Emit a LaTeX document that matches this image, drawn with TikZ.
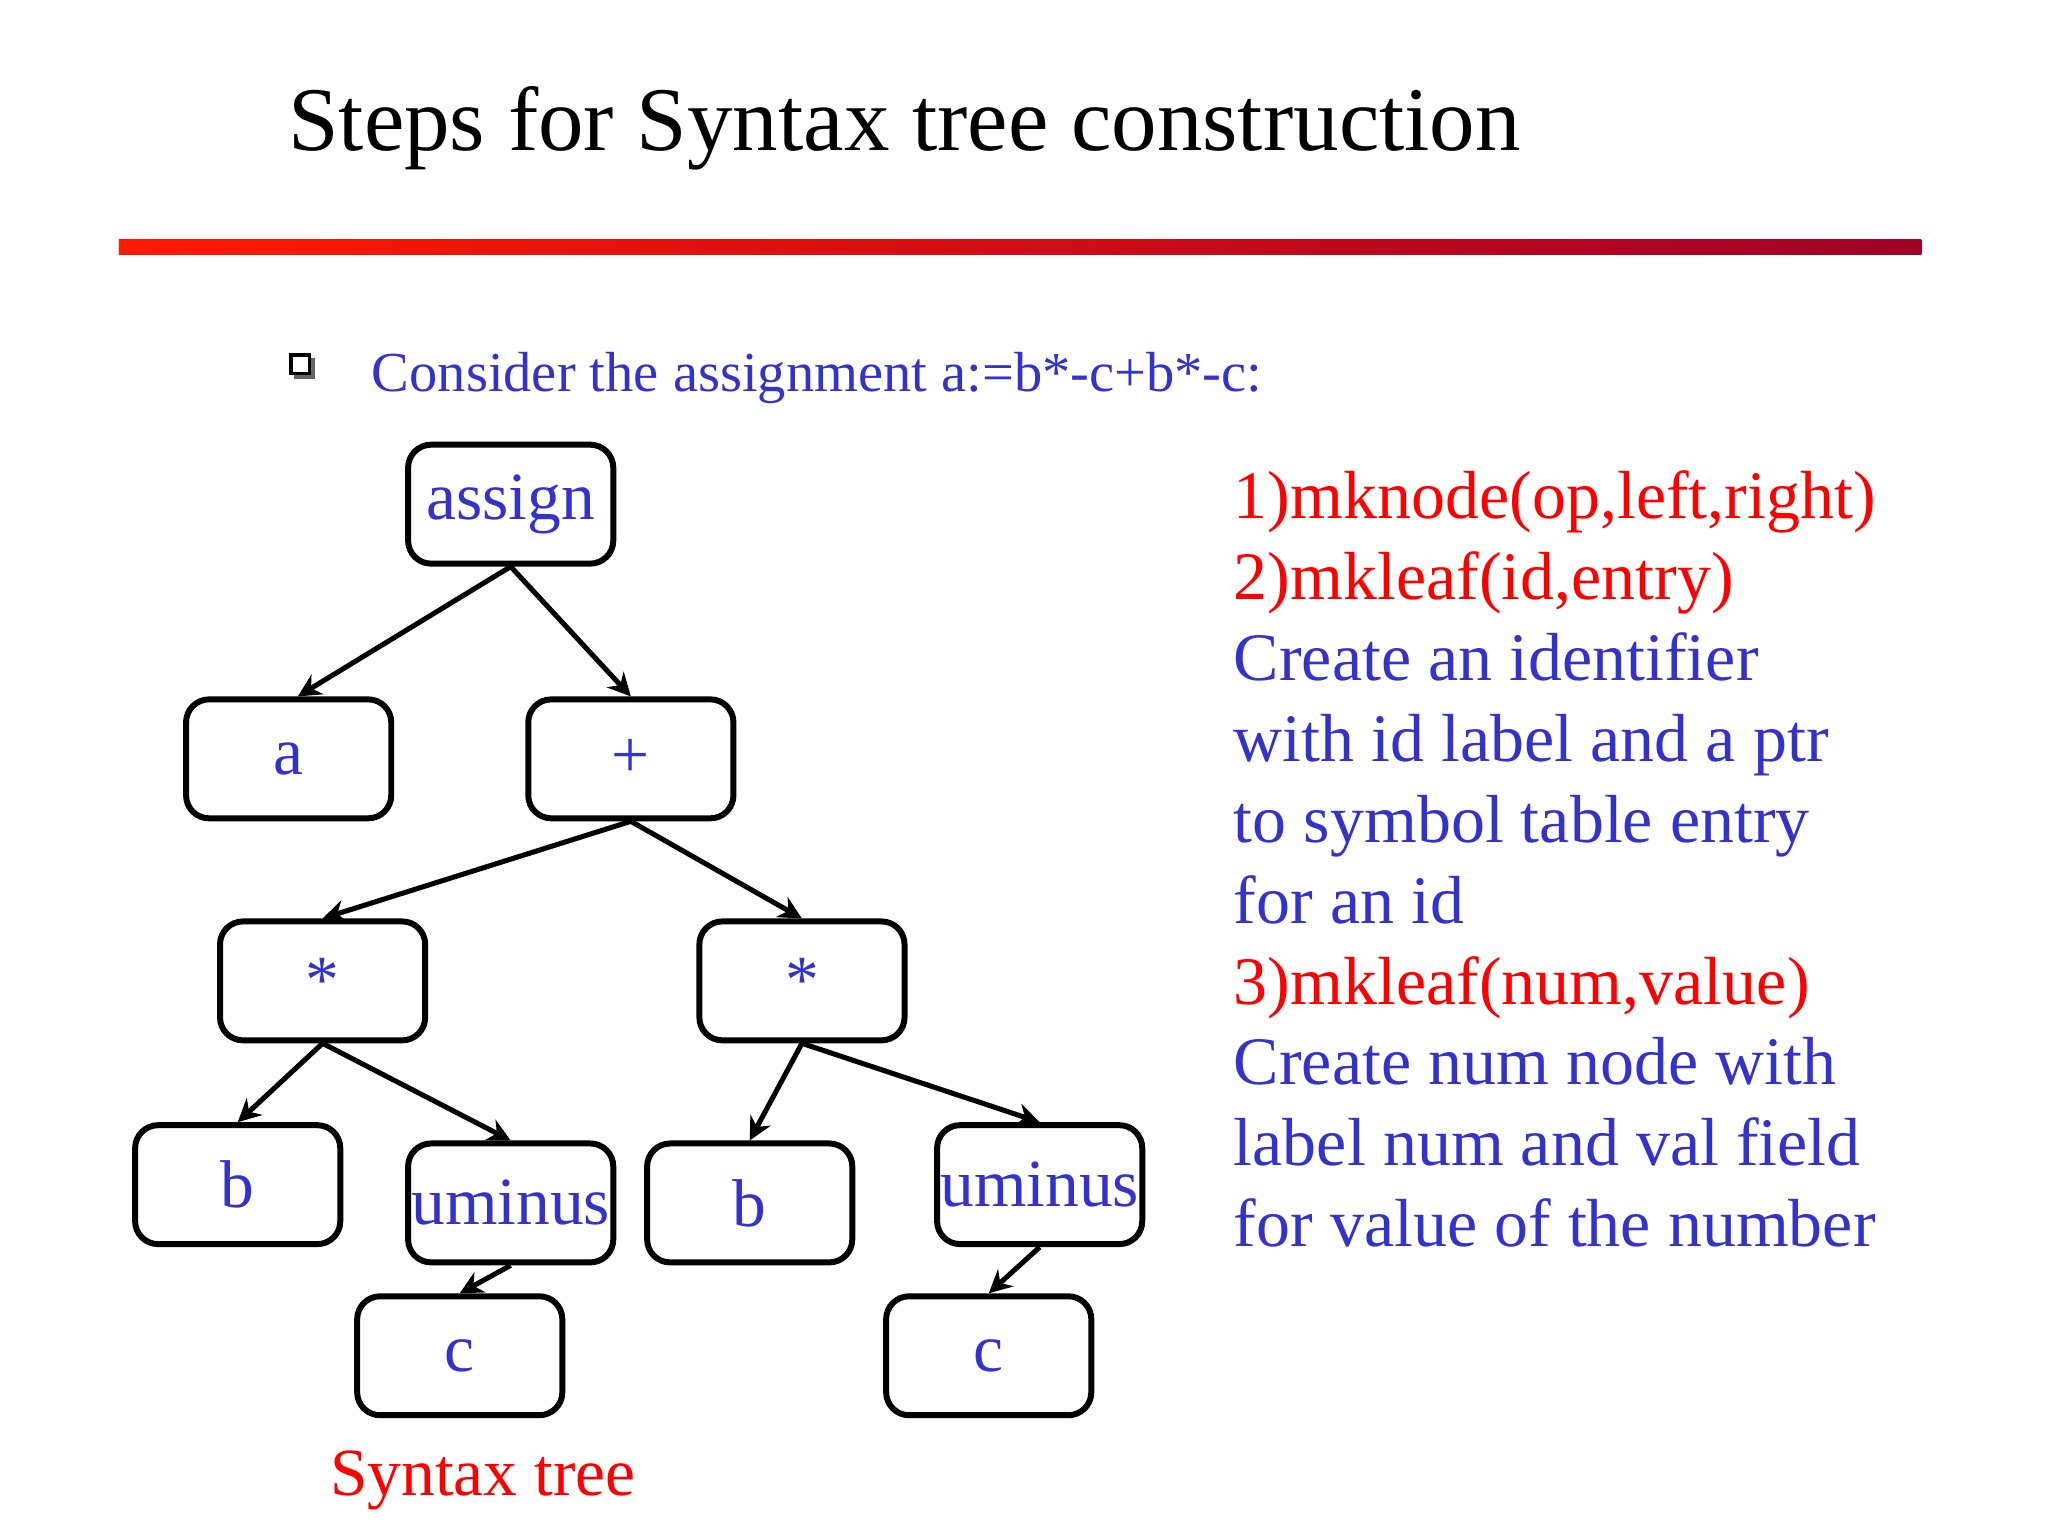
\documentclass[tikz,border=0pt]{standalone}
\usepackage{fontspec}
\setmainfont{Liberation Serif}
\usetikzlibrary{arrows.meta}
\definecolor{tblue}{RGB}{51,51,204}
\definecolor{tred}{RGB}{255,0,0}
\begin{document}
\begin{tikzpicture}[x=0.01cm,y=-0.01cm,
 box/.style={draw,line width=1.3pt,rounded corners=5pt,minimum width=1.57cm,minimum height=0.91cm,inner sep=0pt,text=tblue,font=\fontsize{14.7}{16}\selectfont},
 edge/.style={line width=1.1pt,-{Stealth[length=5pt,width=5pt]}},
 txt/.style={anchor=base west,inner sep=0pt}]
\useasboundingbox (0,0) rectangle (1568,1176);
\node[txt,font=\fontsize{19.8}{24}\selectfont] (title) at (220,115) {Steps for Syntax tree construction};
\shade[left color=red!80!orange, right color={rgb,255:red,160;green,0;blue,40}] (91,183) rectangle (1471,195);
\fill[black!60] (225,274) rectangle (241,290);
\node[draw,fill=white,line width=0.8pt,minimum size=0.14cm,inner sep=0pt] (bul) at (230,279) {};
\node[txt,text=tblue,font=\fontsize{12.3}{15}\selectfont] (cons) at (284,300) {Consider the assignment a:=b*-c+b*-c:};
\node[box] (as) at (391,386) {assign};
\node[box] (a) at (221,581) {a};
\node[box] (p) at (483,581) {+};
\node[box] (sl) at (247,751) {*};
\node[box] (sr) at (614,751) {*};
\node[box] (bl) at (182,907) {b};
\node[box] (ul) at (391,921) {uminus};
\node[box] (br) at (574,921) {b};
\node[box] (ur) at (796,907) {uminus};
\node[box] (cl) at (352,1038) {c};
\node[box] (cr) at (757,1038) {c};
\draw[edge] (as.south) -- ([xshift=0.07cm]a.north);
\draw[edge] (as.south) -- (p.north);
\draw[edge] (p.south) -- (sl.north);
\draw[edge] (p.south) -- (sr.north);
\draw[edge] (sl.south) -- (bl.north);
\draw[edge] (sl.south) -- (ul.north);
\draw[edge] (sr.south) -- (br.north);
\draw[edge] (sr.south) -- (ur.north);
\draw[edge] (ul.south) -- (cl.north);
\draw[edge] (ur.south) -- (cr.north);
\node[txt,text=tred,font=\fontsize{14.7}{16}\selectfont] (st) at (252,1145) {Syntax tree};
\node[anchor=north west,inner sep=0pt,align=left,font=\fontsize{14.8}{17.6}\selectfont,text=tblue] (rt) at (944,360) {%
\textcolor{tred}{1)mknode(op,left,right)}\\
\textcolor{tred}{2)mkleaf(id,entry)}\\
Create an identifier\\
with id label and a ptr\\
to symbol table entry\\
for an id\\
\textcolor{tred}{3)mkleaf(num,value)}\\
Create num node with\\
label num and val field\\
for value of the number};
\end{tikzpicture}
\end{document}
